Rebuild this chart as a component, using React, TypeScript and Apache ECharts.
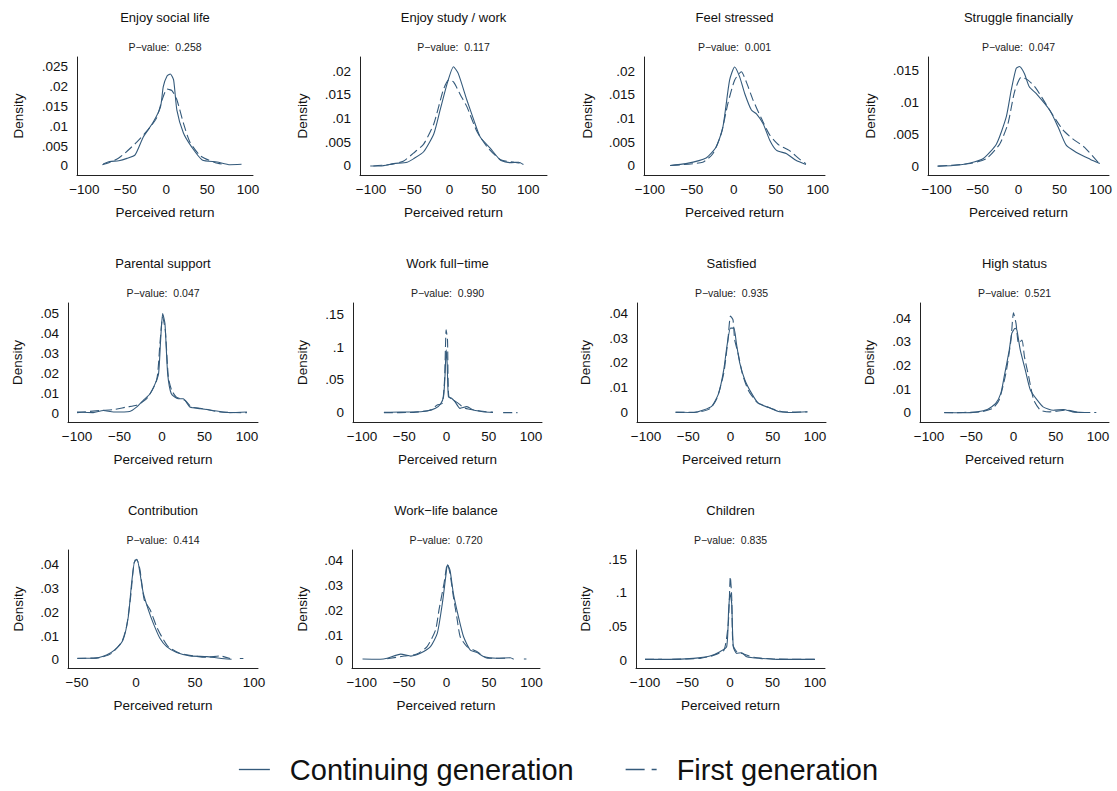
import React, { useEffect, useRef } from "react";
import * as echarts from "echarts";

// perceived return (x) vs density (y)
const socialCont = [[-77,.0005],[-69,.0011],[-58,.0013],[-48,.0019],[-38,.0028],[-28,.0073],[-16,.011],[-7,.0149],[-3.6,.02],[1,.0227],[5,.0232],[9,.0217],[13,.0141],[21,.0083],[31,.0048],[44,.0015],[62,.001],[78,.0003],[92,.0004]];
const socialFirst = [[-78,.0003],[-70,.0008],[-58,.002],[-50,.0033],[-36,.006],[-24,.0087],[-12,.012],[-5,.0167],[1,.0194],[7,.019],[13,.0167],[21,.0108],[29,.006],[42,.0025],[60,.0008],[70,.0004]];
const studyCont = [[-101,0],[-88,0],[-71,.0005],[-54,.0008],[-46,.0015],[-33,.003],[-20,.0068],[-12,.0118],[-3,.0174],[5,.0209],[11,.0195],[22,.0139],[31,.0096],[39,.0061],[52,.0037],[65,.0012],[77,.0007],[88,.0008],[94,.0003]];
const studyFirst = [[-97,0],[-76,.0003],[-59,.001],[-46,.0027],[-33,.0046],[-20,.0089],[-8,.016],[-1,.0181],[5,.0177],[14,.0149],[22,.0125],[35,.0072],[48,.004],[65,.0013],[82,.0008],[94,.0005]];
const stressCont = [[-76,.0001],[-57,.0005],[-33,.0017],[-21,.004],[-13,.0082],[-5,.0181],[1,.0209],[7,.0188],[13,.0153],[21,.0118],[27,.011],[35,.0089],[43,.0054],[51,.0033],[63,.0026],[74,.0012],[86,.0003]];
const stressFirst = [[-75,.0001],[-37,.0008],[-25,.0026],[-15,.0068],[-7,.0132],[1,.0181],[9,.0199],[15,.0177],[23,.0139],[33,.01],[43,.0065],[54,.0044],[66,.0033],[78,.0015],[86,.0005]];
const financeCont = [[-99,0],[-80,.0001],[-59,.0005],[-43,.0012],[-27,.0035],[-15,.0078],[-9,.012],[-3,.0154],[1,.0157],[7,.0146],[13,.0125],[21,.0115],[38,.0088],[48,.0062],[58,.0033],[70,.0022],[87,.0011],[99,.0004]];
const financeFirst = [[-98,0],[-59,.0004],[-39,.0012],[-23,.0035],[-13,.0067],[-5,.0117],[3,.014],[11,.0136],[21,.0123],[38,.0088],[54,.0057],[66,.0043],[80,.003],[99,.0003]];
const parentCont = [[-100,.0005],[-81,.0002],[-69,.0013],[-57,.0005],[-38,.0008],[-30,.003],[-22,.0064],[-14,.0097],[-8,.0148],[-4,.0198],[-1.6,.0366],[0.8,.05],[3.5,.045],[6.7,.0198],[11,.0097],[19,.0072],[25,.0072],[33,.003],[45,.0022],[60,.0013],[80,.0002],[100,.0005]];
const parentFirst = [[-100,.0002],[-73,.0013],[-57,.0017],[-42,.003],[-30,.0039],[-18,.0072],[-6.3,.0164],[-2.4,.035],[0.8,.0483],[3.9,.0416],[7.5,.0181],[11.4,.0114],[17,.008],[27,.0064],[35,.003],[49,.0022],[68,.0005],[100,.0002]];
const fulltimeCont = [[-74,.0005],[-54,.001],[-39,.001],[-23,.0025],[-13,.0066],[-7,.0132],[-3.5,.0244],[-1.6,.06],[-0.4,.0956],[0.8,.0752],[2.3,.0244],[6,.0219],[10,.0168],[16,.0066],[24,.0092],[32,.004],[43,.0015],[55,.0005]];
const fulltimeFirst = [[-74,0],[-39,.0005],[-19,.004],[-11,.0117],[-5,.0142],[-2.3,.0498],[-0.4,.1261],[1.2,.111],[2.7,.0244],[8,.0193],[14,.0142],[22,.0066],[40,.0025],[55,.0005],[61,"-"],[67,0],[84,0]];
const satisfiedCont = [[-65,.0003],[-43,.0001],[-32,.0011],[-22,.0027],[-14,.0078],[-8,.0172],[-4,.0272],[0,.034],[4,.034],[7,.0279],[11,.0199],[17,.0132],[25,.0078],[33,.0038],[46,.002],[58,.0004],[74,.0001],[91,.0004]];
const satisfiedFirst = [[-65,.0001],[-36,.0004],[-24,.0017],[-16,.0058],[-8,.0158],[-3,.0293],[0,.0389],[3,.0373],[5,.0293],[9,.0239],[14,.0158],[21,.0091],[31,.0044],[43,.0024],[62,.0004],[91,.0003]];
const statusCont = [[-82,.0001],[-58,0],[-43,.0004],[-31,.0014],[-21,.004],[-15,.0082],[-11,.0153],[-5,.0266],[-2,.0336],[2,.0358],[4,.0351],[8,.0266],[14,.0181],[20,.0096],[28,.0054],[35,.0025],[47,.0011],[59,.0014],[70,.0004],[84,.0001]];
const statusFirst = [[-82,0],[-39,.0004],[-25,.0018],[-17,.0054],[-9,.0167],[-3,.0308],[0,.0424],[3,.0379],[6,.0294],[10,.0308],[13,.0237],[18,.0153],[24,.0054],[32,.0011],[43,.0004],[63,.0011],[79,.0001],[98,.0001]];
const contribCont = [[-49.7,.0007],[-36,.0007],[-25,.0021],[-18,.0042],[-11,.0084],[-6.5,.0182],[-3.7,.0323],[-0.8,.0421],[1.1,.0421],[3.4,.0365],[6.2,.0281],[10.5,.0211],[14.7,.0154],[20.3,.0091],[26,.0056],[34.5,.0031],[45.8,.0017],[60,.0014],[71,.0007],[81,.0003]];
const contribFirst = [[-49.7,.0006],[-30.5,.001],[-20.6,.0028],[-12,.0077],[-8,.014],[-4.5,.0267],[-1.7,.0407],[0.6,.0424],[3.4,.0379],[7,.0253],[12,.0211],[17.5,.014],[21.8,.0098],[27.4,.0056],[37,.0028],[48.6,.0017],[60,.0011],[71,.0017],[79.7,.0006],[84,"-"],[88,.0006],[91,.0006]];
const worklifeCont = [[-99,.0004],[-78,.0003],[-70,.0007],[-54,.0024],[-42,.0016],[-31,.0027],[-19,.0054],[-11,.0107],[-5,.0228],[-1,.0336],[1,.0383],[4,.0362],[8,.0268],[14,.0174],[20,.0094],[28,.004],[36,.003],[44,.0013],[59,.0007],[75,.0009],[79,.0003]];
const worklifeFirst = [[-70,.0005],[-50,.0016],[-35,.0024],[-23,.0054],[-13,.0121],[-9,.0201],[-3,.0309],[1,.0387],[4,.0349],[8,.0255],[12,.0174],[16,.0094],[24,.0054],[36,.0034],[48,.0007],[71,.0007],[80,"-"],[91,.0004],[94,.0004]];
const childrenCont = [[-100,.001],[-71,.001],[-43,.0025],[-23.5,.006],[-11.8,.0124],[-3.9,.0199],[-1.6,.0745],[0,.0993],[2,.0844],[3.9,.0199],[7.8,.0099],[13.7,.0109],[19.6,.005],[35,.0025],[55,.001],[100,.001]];
const childrenFirst = [[-100,.001],[-80,.001],[-74,"-"],[-68,.001],[-35,.0025],[-19,.007],[-7,.0149],[-2,.0546],[0.4,.1242],[2,.0944],[3.5,.0224],[8,.0124],[16,.0089],[28,.004],[51,.0015],[100,.001]];

const titles = ["Enjoy social life", "Enjoy study / work", "Feel stressed", "Struggle financially", "Parental support", "Work full\u2212time", "Satisfied", "High status", "Contribution", "Work\u2212life balance", "Children"];
const pValues = ["0.258", "0.117", "0.001", "0.047", "0.047", "0.990", "0.935", "0.521", "0.414", "0.720", "0.835"];
const contSeries = [socialCont, studyCont, stressCont, financeCont, parentCont, fulltimeCont, satisfiedCont, statusCont, contribCont, worklifeCont, childrenCont];
const firstSeries = [socialFirst, studyFirst, stressFirst, financeFirst, parentFirst, fulltimeFirst, satisfiedFirst, statusFirst, contribFirst, worklifeFirst, childrenFirst];

const ticks025 = [0, 0.005, 0.01, 0.015, 0.02, 0.025];
const ticks02 = [0, 0.005, 0.01, 0.015, 0.02];
const ticks015 = [0, 0.005, 0.01, 0.015];
const ticks05 = [0, 0.01, 0.02, 0.03, 0.04, 0.05];
const ticks04 = [0, 0.01, 0.02, 0.03, 0.04];
const ticks15 = [0, 0.05, 0.1, 0.15];
const yTicks = [ticks025, ticks02, ticks02, ticks015, ticks05, ticks15, ticks04, ticks04, ticks04, ticks04, ticks15];
const xTicksFull = [-100, -50, 0, 50, 100];
const xTicksHalf = [-50, 0, 50, 100];
const xTicks = [xTicksFull, xTicksFull, xTicksFull, xTicksFull, xTicksFull, xTicksFull, xTicksFull, xTicksFull, xTicksHalf, xTicksFull, xTicksFull];

// plot regions in px, and axis ranges
const layout = [
  { left: 77, top: 57, width: 176, height: 118, x: [-109, 106], y: [-0.0023, 0.0275], gap: 52 },
  { left: 360, top: 57, width: 187, height: 118, x: [-114, 124], y: [-0.0019, 0.02295], gap: 51 },
  { left: 644, top: 57, width: 181, height: 118, x: [-107, 108.7], y: [-0.0019, 0.023], gap: 50 },
  { left: 928, top: 57, width: 181, height: 118, x: [-110.5, 110.2], y: [-0.0014, 0.0172], gap: 51 },
  { left: 68, top: 303, width: 190, height: 119, x: [-110.6, 113], y: [-0.0045, 0.0553], gap: 44 },
  { left: 353, top: 303, width: 189, height: 119, x: [-110.6, 113], y: [-0.0142, 0.167], gap: 44 },
  { left: 637, top: 303, width: 189, height: 119, x: [-110.6, 113], y: [-0.0037, 0.0441], gap: 45 },
  { left: 920, top: 303, width: 189, height: 119, x: [-110.6, 113], y: [-0.0039, 0.0465], gap: 44 },
  { left: 68, top: 550, width: 190, height: 118, x: [-57.6, 103.4], y: [-0.0034, 0.0463], gap: 43 },
  { left: 352, top: 550, width: 188, height: 118, x: [-111.4, 110], y: [-0.0032, 0.0443], gap: 43 },
  { left: 636, top: 550, width: 189, height: 118, x: [-110.6, 111.8], y: [-0.0119, 0.1639], gap: 44 },
];

const FONT = "'Liberation Sans', Arial, Helvetica, sans-serif";
const LINE = "#345a7b";
const INK = "#111";

const fmtY = (v: number) => (v === 0 ? "0" : parseFloat(v.toFixed(4)).toString().replace(/^0\./, "."));
const fmtX = (v: number) => String(v).replace("-", "\u2212");

const App: React.FC = () => {
  const chartRef = useRef<HTMLDivElement>(null);

  useEffect(() => {
    document.body.style.margin = "0";
    if (!chartRef.current) return;

    const title: any[] = [];
    layout.forEach((l, i) => {
      const cx = l.left + l.width / 2;
      title.push({
        text: titles[i],
        left: cx,
        top: l.top - 46.5,
        textAlign: "center",
        padding: 0,
        textStyle: { fontFamily: FONT, fontSize: 13, fontWeight: "normal", color: INK },
      });
      title.push({
        text: "P\u2212value:  " + pValues[i],
        left: cx,
        top: l.top - 15.5,
        textAlign: "center",
        padding: 0,
        textStyle: { fontFamily: FONT, fontSize: 10.5, fontWeight: "normal", color: "#222" },
      });
    });

    const grid = layout.map((l) => ({ left: l.left, top: l.top, width: l.width, height: l.height }));

    const xAxis = layout.map((l, i) => ({
      type: "value",
      gridIndex: i,
      min: l.x[0],
      max: l.x[1],
      name: "Perceived return",
      nameLocation: "middle",
      nameGap: 30,
      nameTextStyle: { fontFamily: FONT, fontSize: 13.5, color: INK },
      axisLine: { show: true, onZero: false, lineStyle: { color: "#222", width: 1 } },
      axisTick: { show: false },
      splitLine: { show: false },
      axisLabel: {
        customValues: xTicks[i],
        formatter: fmtX,
        margin: 7,
        fontFamily: FONT,
        fontSize: 13.5,
        color: INK,
      },
    }));

    const yAxis = layout.map((l, i) => ({
      type: "value",
      gridIndex: i,
      min: l.y[0],
      max: l.y[1],
      name: "Density",
      nameLocation: "middle",
      nameGap: l.gap,
      nameTextStyle: { fontFamily: FONT, fontSize: 13.5, color: INK },
      axisLine: { show: true, onZero: false, lineStyle: { color: "#222", width: 1 } },
      axisTick: { show: false },
      splitLine: { show: false },
      axisLabel: {
        customValues: yTicks[i],
        formatter: fmtY,
        margin: 9,
        fontFamily: FONT,
        fontSize: 13.5,
        color: INK,
      },
    }));

    const series: any[] = [];
    layout.forEach((_, i) => {
      series.push({
        type: "line",
        name: "Continuing generation",
        xAxisIndex: i,
        yAxisIndex: i,
        data: contSeries[i],
        symbol: "none",
        smooth: 0.2,
        lineStyle: { color: LINE, width: 1.1 },
        itemStyle: { color: LINE },
      });
      series.push({
        type: "line",
        name: "First generation",
        xAxisIndex: i,
        yAxisIndex: i,
        data: firstSeries[i],
        symbol: "none",
        smooth: 0.2,
        lineStyle: { color: LINE, width: 1.1, type: [9, 4] },
        itemStyle: { color: LINE },
      });
    });

    const option = {
      animation: false,
      backgroundColor: "#fff",
      title,
      grid,
      xAxis,
      yAxis,
      series,
      legend: {
        data: [
          { name: "Continuing generation", icon: "path://M0,0h30v1.3h-30z" },
          { name: "First generation", icon: "path://M0,0h19v1.3h-19z M26,0h5v1.3h-5z" },
        ],
        left: "center",
        top: 750,
        itemWidth: 31,
        itemHeight: 1.4,
        itemGap: 52,
        itemStyle: { color: LINE },
        textStyle: { fontFamily: FONT, fontSize: 29, color: INK, padding: [0, 0, 0, 15] },
      },
    };

    const myChart = echarts.init(chartRef.current, null, { renderer: "svg" });
    myChart.setOption(option);

    return () => {
      myChart.dispose();
    };
  }, []);

  return <div ref={chartRef} style={{ width: "1117px", height: "791px" }} />;
};

export default App;
